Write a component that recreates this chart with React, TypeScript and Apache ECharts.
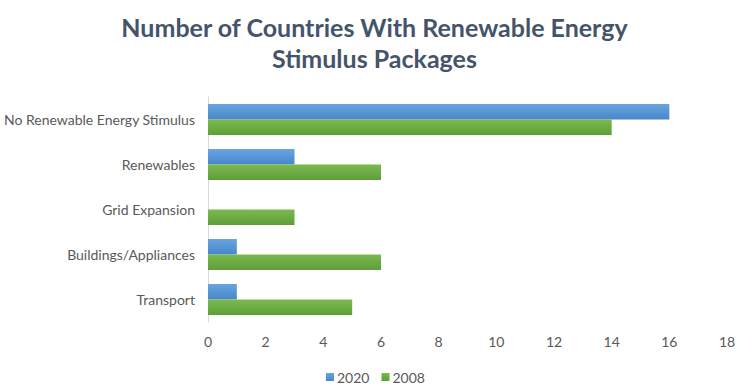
import React, { useEffect, useRef } from "react";
import * as echarts from "echarts";

const categories = [
  "No Renewable Energy Stimulus",
  "Renewables",
  "Grid Expansion",
  "Buildings/Appliances",
  "Transport",
];
const values2020 = [16, 3, 0, 1, 1];
const values2008 = [14, 6, 3, 6, 5];
const seriesNames = ["2020", "2008"];
const titleText = "Number of Countries With Renewable Energy\nStimulus Packages";

const FONT = "Lato";

export default function App() {
  const ref = useRef<HTMLDivElement>(null);
  useEffect(() => {
    if (!ref.current) return;
    const chart = echarts.init(ref.current, null, { renderer: "svg" });
    const grad = (a: string, b: string) =>
      new echarts.graphic.LinearGradient(0, 0, 0, 1, [
        { offset: 0, color: a },
        { offset: 1, color: b },
      ]);
    chart.setOption({
      animation: false,
      backgroundColor: "#ffffff",
      title: {
        text: titleText,
        left: "center",
        top: 6,
        textStyle: {
          fontFamily: FONT,
          fontWeight: "bold",
          fontSize: 25,
          color: "#44546A",
          lineHeight: 31,
        },
      },
      legend: {
        bottom: -2,
        left: 321,
        itemWidth: 8,
        itemHeight: 8,
        itemGap: 12,
        icon: "rect",
        textStyle: { fontFamily: FONT, fontSize: 14, color: "#595959", padding: [0, 0, 0, -2] },
        data: seriesNames,
      },
      grid: {
        left: 208,
        right: 22,
        top: 97,
        bottom: 65,
        containLabel: false,
        outerBoundsMode: "none",
      },
      xAxis: {
        type: "value",
        min: 0,
        max: 18,
        interval: 2,
        axisLine: { show: false },
        axisTick: { show: false },
        splitLine: { show: false },
        axisLabel: { fontFamily: FONT, fontSize: 14, color: "#595959", margin: 12 },
      },
      yAxis: {
        type: "category",
        inverse: true,
        data: categories,
        axisLine: { show: true, lineStyle: { color: "#d9d9d9" } },
        axisTick: { show: false },
        axisLabel: { fontFamily: FONT, fontSize: 14, color: "#595959", margin: 13 },
      },
      series: [
        {
          name: seriesNames[0],
          type: "bar",
          data: values2020,
          barCategoryGap: "31%",
          barGap: "0%",
          itemStyle: { color: grad("#68a5de", "#4886cc") },
        },
        {
          name: seriesNames[1],
          type: "bar",
          data: values2008,
          barCategoryGap: "31%",
          barGap: "0%",
          itemStyle: { color: grad("#7bba50", "#5f9d39") },
        },
      ],
    });
    return () => chart.dispose();
  }, []);
  return (
    <div
      ref={ref}
      style={{ position: "absolute", left: 0, top: 0, width: 749, height: 387 }}
    />
  );
}
